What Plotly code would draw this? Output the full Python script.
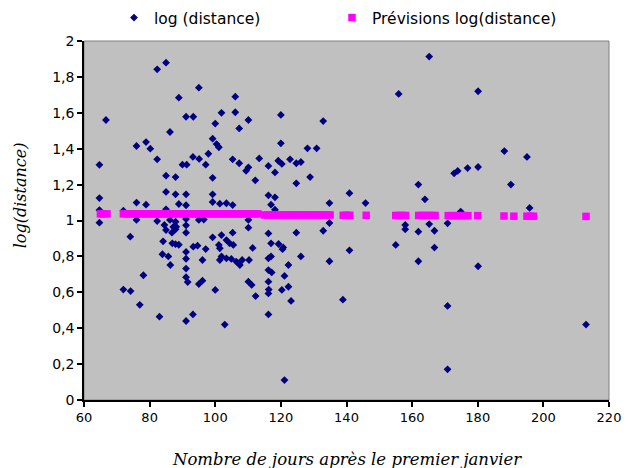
import plotly.graph_objects as go

# Observed data: day after 1 January vs log(distance)
day = [64.7, 66.7, 76.0, 78.9, 80.2, 64.7, 64.7, 64.7, 72.0, 76.0, 78.9, 76.0, 74.1, 78.1, 72.0,
       74.2, 77.0, 85.0, 82.3, 95.0, 88.9, 91.1, 93.3, 101.9, 100.0, 86.2, 99.2, 100.4, 101.1,
       97.9, 93.2, 95.1, 82.3, 90.0, 91.3, 97.1, 85.0, 87.9, 99.2, 85.0, 87.9, 91.1, 99.2, 99.2,
       101.4, 88.9, 91.1, 85.0, 82.3, 86.2, 87.9, 91.1, 95.0, 96.5, 87.2, 91.1, 85.0, 87.9, 86.8,
       91.1, 84.1, 86.9, 88.9, 87.9, 93.3, 94.6, 99.2, 101.9, 101.1, 97.1, 91.1, 83.9, 85.7, 86.3,
       91.1, 96.1, 101.4, 101.9, 101.4, 91.1, 91.1, 91.6, 95.0, 96.1, 100.0, 83.0, 91.1, 93.2,
       102.9, 106.1, 106.1, 110.1, 107.3, 120.0, 120.0, 105.3, 107.3, 110.1, 109.4, 113.4, 112.2,
       116.2, 119.2, 120.3, 118.2, 122.8, 124.7, 124.7, 103.4, 105.3, 116.2, 118.2, 117.0, 118.2,
       110.1, 110.1, 105.3, 116.2, 124.7, 103.4, 104.4, 105.5, 111.4, 117.0, 119.3, 120.5, 120.7,
       122.3, 103.4, 104.9, 106.4, 107.5, 108.2, 110.3, 116.2, 117.0, 116.2, 117.2, 121.1, 122.3,
       120.3, 123.1, 110.1, 111.1, 112.3, 116.2, 116.2, 116.2, 121.1, 165.2, 155.9, 132.9, 126.1,
       128.1, 130.9, 128.9, 140.9, 134.8, 145.8, 161.9, 163.9, 134.8, 132.9, 157.9, 157.9, 165.2,
       161.9, 166.8, 170.8, 155.0, 166.8, 161.9, 140.9, 134.8, 126.1, 116.3, 138.9, 170.8, 170.8,
       180.1, 188.1, 195.0, 172.8, 173.9, 176.9, 180.1, 190.1, 195.8, 174.8, 180.1, 213.0, 84.5,
       88.1]
log_distance = [1.31, 1.56, 1.415, 1.437, 1.40, 1.125, 1.058, 0.988, 1.055, 1.10, 1.088, 1.003,
                0.91, 0.695, 0.615, 0.607, 0.53, 1.879, 1.842, 1.74, 1.684, 1.578, 1.578, 1.60,
                1.54, 1.493, 1.456, 1.426, 1.408, 1.372, 1.354, 1.343, 1.341, 1.311, 1.311, 1.311,
                1.25, 1.242, 1.238, 1.159, 1.146, 1.146, 1.146, 1.103, 1.094, 1.092, 1.085, 1.062,
                0.997, 1.003, 0.993, 1.008, 1.003, 1.005, 0.964, 0.973, 0.947, 0.951, 0.932, 0.932,
                0.884, 0.873, 0.865, 0.868, 0.854, 0.86, 0.906, 0.919, 0.864, 0.841, 0.825, 0.812,
                0.80, 0.752, 0.787, 0.78, 0.845, 0.80, 0.78, 0.732, 0.684, 0.657, 0.646, 0.665,
                0.613, 0.464, 0.44, 0.477, 0.42, 1.69, 1.603, 1.56, 1.513, 1.588, 1.43, 1.341,
                1.319, 1.296, 1.277, 1.346, 1.224, 1.304, 1.333, 1.315, 1.268, 1.341, 1.319, 1.207,
                1.096, 1.086, 1.14, 1.129, 1.088, 1.06, 1.003, 0.96, 0.932, 0.928, 0.932, 0.891,
                0.873, 0.864, 0.847, 0.873, 0.869, 0.84, 0.85, 0.752, 0.789, 0.786, 0.771, 0.752,
                0.78, 0.78, 0.789, 0.80, 0.724, 0.711, 0.691, 0.631, 0.613, 0.552, 0.659, 0.641,
                0.579, 0.659, 0.594, 0.477, 0.111, 1.913, 1.705, 1.554, 1.326, 1.402, 1.402, 1.242,
                1.152, 1.097, 1.097, 1.20, 1.118, 0.986, 0.943, 0.975, 0.951, 0.98, 0.938, 0.943,
                0.984, 0.864, 0.849, 0.773, 0.834, 0.773, 0.80, 0.615, 0.559, 0.524, 0.171, 1.72,
                1.387, 1.354, 1.263, 1.276, 1.292, 1.298, 1.20, 1.07, 1.05, 0.745, 0.42, 0.975,
                0.965]

# Forecast (regression) values
forecast_day = [65, 66, 67,
                72, 73, 74, 75, 76, 77, 78, 79, 80, 81, 82, 83, 84, 85, 86, 87, 88, 89, 90, 91, 92,
                93, 94, 95, 96, 97, 98, 99, 100, 101, 102, 103, 104, 105, 106, 107, 108, 109, 110,
                111, 112, 113,
                115, 116, 117, 118, 119, 120, 121, 122, 123, 124, 125, 126, 127, 128, 129, 130, 131,
                132, 133, 134, 135,
                139, 140, 141, 146, 155, 156, 157, 158, 162, 163, 164, 165, 166, 167,
                171, 172, 173, 174, 175, 176, 177, 180, 188, 191, 195, 196, 197, 213]
forecast_log = [1.037, 1.037, 1.037,
                1.037, 1.037, 1.037, 1.037, 1.037, 1.037, 1.037, 1.037, 1.037, 1.037, 1.037, 1.037,
                1.037, 1.037, 1.037, 1.037, 1.037, 1.037, 1.037, 1.037, 1.037, 1.037, 1.037, 1.037,
                1.037, 1.037, 1.037, 1.037, 1.037, 1.037, 1.037, 1.037, 1.037, 1.037, 1.037, 1.037,
                1.037, 1.037, 1.037, 1.037, 1.037, 1.037,
                1.031, 1.031, 1.031, 1.031, 1.031, 1.031, 1.031, 1.031, 1.031, 1.031, 1.031, 1.031,
                1.031, 1.031, 1.031, 1.031, 1.031, 1.031, 1.031, 1.031, 1.031,
                1.029, 1.029, 1.029, 1.029, 1.028, 1.028, 1.028, 1.028, 1.028, 1.028, 1.028, 1.028,
                1.028, 1.028,
                1.027, 1.027, 1.027, 1.027, 1.027, 1.027, 1.027, 1.027, 1.025, 1.024, 1.024, 1.024,
                1.024, 1.023]

x_ticks = [60, 80, 100, 120, 140, 160, 180, 200, 220]
y_ticks = [0, 0.2, 0.4, 0.6, 0.8, 1, 1.2, 1.4, 1.6, 1.8, 2]

legend_font = dict(family="DejaVu Sans", size=15.5, color="#000000")

fig = go.Figure()
fig.add_trace(go.Scatter(
    x=day, y=log_distance, mode="markers", name="log (distance)", legend="legend",
    marker=dict(symbol="diamond", size=6, color="#000080", line=dict(width=0)),
))
fig.add_trace(go.Scatter(
    x=forecast_day, y=forecast_log, mode="markers", name="Prévisions log(distance)",
    legend="legend2",
    marker=dict(symbol="square", size=7.5, color="#FF00FF", line=dict(width=0)),
))

fig.update_layout(
    width=630, height=468,
    margin=dict(l=84, r=21, t=41, b=68, autoexpand=False),
    paper_bgcolor="#FFFFFF", plot_bgcolor="#C0C0C0",
    separators=", ",
    showlegend=True,
    legend=dict(xref="container", yref="container", x=114 / 630, y=1 - 18 / 468,
                xanchor="left", yanchor="middle", font=legend_font,
                bgcolor="rgba(0,0,0,0)", borderwidth=0),
    legend2=dict(xref="container", yref="container", x=332 / 630, y=1 - 18 / 468,
                 xanchor="left", yanchor="middle", font=legend_font,
                 bgcolor="rgba(0,0,0,0)", borderwidth=0),
    xaxis=dict(range=[60, 220], tickvals=x_ticks, showgrid=False, zeroline=False,
               automargin=False,
               showline=True, linecolor="#000000", linewidth=1.5,
               ticks="outside", ticklen=5, tickcolor="#000000", tickwidth=1.5,
               tickfont=dict(family="DejaVu Sans", size=13, color="#000000")),
    yaxis=dict(range=[0, 2], tickvals=y_ticks, showgrid=False, zeroline=False,
               automargin=False,
               showline=True, linecolor="#000000", linewidth=1.5,
               ticks="outside", ticklen=5, tickcolor="#000000", tickwidth=1.5,
               tickfont=dict(family="DejaVu Sans", size=14, color="#000000")),
    annotations=[
        dict(text="Nombre de jours après le premier janvier", xref="paper", yref="paper",
             x=0.5, y=-0.165, xanchor="center", yanchor="middle", showarrow=False,
             font=dict(family="DejaVu Serif", size=16.5, color="#000000", style="italic")),
        dict(text="log(distance)", xref="paper", yref="paper",
             x=-0.122, y=0.57, xanchor="center", yanchor="middle", showarrow=False,
             textangle=-90,
             font=dict(family="DejaVu Serif", size=16, color="#000000", style="italic")),
    ],
)
fig.add_shape(type="rect", xref="paper", yref="paper", x0=0, y0=0, x1=1, y1=1,
              line=dict(color="#808080", width=1), layer="below")

fig.write_html("out.html", config={"displayModeBar": False},
               post_script="document.body.style.margin='0';document.body.style.padding='0';")
